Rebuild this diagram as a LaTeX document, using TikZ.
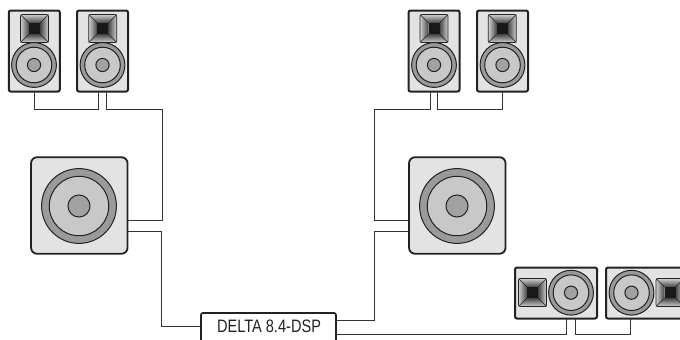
\documentclass[tikz,border=0pt]{standalone}
\usepackage{fontspec}
\setmainfont{Liberation Sans}
\usetikzlibrary{calc}
\definecolor{ink}{HTML}{222222}
\definecolor{wire}{HTML}{333333}
\definecolor{cab}{HTML}{E3E3E3}
\definecolor{ringc}{HTML}{9A9A9A}
\definecolor{conec}{HTML}{C8C8C8}
\definecolor{capc}{HTML}{A2A2A2}
\definecolor{hornout}{HTML}{D0D0D0}
\definecolor{hornin}{HTML}{444444}
\tikzset{
  cabinet/.style={draw=ink,fill=cab,line width=2pt,rounded corners=2pt,inner sep=0pt,outer sep=0pt,minimum width=#1},
  subcab/.style={draw=ink,fill=cab,line width=1.8pt,rounded corners=6pt,inner sep=0pt,outer sep=0pt,minimum width=96.5pt,minimum height=96.5pt},
  wirestyle/.style={draw=wire,line width=1pt,line join=miter},
  part/.style={draw=ink,line width=1pt},
}
\newcommand{\woofer}[3]{% cx cy scale
  \begin{scope}[shift={(#1,#2)},scale=#3]
    \draw[part,fill=ringc] (0,0) circle (22.4);
    \draw[part,fill=conec] (0,0) circle (17.8);
    \draw[part,fill=capc] (0,0) circle (6.6);
  \end{scope}}
\newcommand{\horn}[2]{% cx cy
  \begin{scope}[shift={(#1,#2)}]
    \shade[top color=hornout,bottom color=hornin] (-14,-14) -- (14,-14) -- (5.5,-5.5) -- (-5.5,-5.5) -- cycle;
    \shade[top color=hornin,bottom color=hornout] (-14,14) -- (14,14) -- (5.5,5.5) -- (-5.5,5.5) -- cycle;
    \shade[left color=hornout,right color=hornin] (-14,-14) -- (-14,14) -- (-5.5,5.5) -- (-5.5,-5.5) -- cycle;
    \shade[left color=hornin,right color=hornout] (14,-14) -- (14,14) -- (5.5,5.5) -- (5.5,-5.5) -- cycle;
    \fill[black!90] (-5.5,-5.5) rectangle (5.5,5.5);
    \draw[draw=ink,line width=.7pt,rounded corners=1.5pt] (-14,-14) rectangle (14,14);
    \draw[draw=ink,line width=.6pt] (-14,-14) -- (-5.5,-5.5) (14,-14) -- (5.5,-5.5) (-14,14) -- (-5.5,5.5) (14,14) -- (5.5,5.5);
  \end{scope}}
\begin{document}
\begin{tikzpicture}[x=1pt,y=-1pt]
\clip (0,0) rectangle (680,340);
% cabinets
\node[cabinet=51pt,minimum height=81pt] (s1) at (34.3,51) {};
\node[cabinet=51pt,minimum height=81pt] (s2) at (102.5,51) {};
\node[cabinet=51pt,minimum height=81pt] (s3) at (434,51) {};
\node[cabinet=51pt,minimum height=81pt] (s4) at (502.5,51) {};
\node[subcab] (b1) at (79.3,205.5) {};
\node[subcab] (b2) at (457.3,205.5) {};
\node[cabinet=82pt,minimum height=51pt] (m1) at (556,293) {};
\node[cabinet=82pt,minimum height=51pt] (m2) at (647,293) {};
\node[draw=ink,fill=white,line width=1.7pt,rounded corners=2pt,inner sep=0pt,outer sep=0pt,minimum width=135pt,minimum height=34pt] (dsp) at (268.5,330) {};
\node[inner sep=0pt,font=\fontsize{18}{20}\selectfont,text=ink] (lbl) at (269,326.7) {\scalebox{0.81}[1]{DELTA 8.4-DSP}};
% coordinates on junctions
\coordinate (j1) at (162,109);
\coordinate (j2) at (374,109);
% wires
\draw[wirestyle] (s1.south) -- ++(0,17.5) -| ([xshift=-4.2pt]s2.south);
\draw[wirestyle] ([xshift=4.2pt]s2.south) |- (j1) |- ([yshift=-14.5pt]b1.east);
\draw[wirestyle] ([yshift=-25.5pt]b1.east) -- ++(34,0) |- ([yshift=4pt]dsp.west);
\draw[wirestyle] ([xshift=-3.2pt]s3.south) |- (j2) |- ([yshift=-15pt]b2.west);
\draw[wirestyle] ([xshift=3.8pt]s3.south) -- ++(0,17.5) -| (s4.south);
\draw[wirestyle] ([yshift=-25.5pt]b2.west) -- ++(-35,0) |- ([yshift=9.5pt]dsp.east);
\draw[wirestyle] ([yshift=-4pt]dsp.east) -| ([xshift=10.7pt]m1.south);
\draw[wirestyle] ([xshift=19pt]m1.south) -- ++(0,15.5) -| ([xshift=-16.3pt]m2.south);
% drivers
\horn{34.5}{28.5}\woofer{34}{65}{1}
\horn{102.7}{28.5}\woofer{102.5}{65}{1}
\horn{434}{28.5}\woofer{434}{65}{1}
\horn{502.3}{28.5}\woofer{502.5}{65}{1}
\woofer{79}{206}{1.67}
\woofer{457}{206}{1.67}
\horn{532.5}{292.5}\woofer{571}{292.7}{1}
\horn{670}{292.5}\woofer{631.5}{292.7}{1}
\end{tikzpicture}
\end{document}
